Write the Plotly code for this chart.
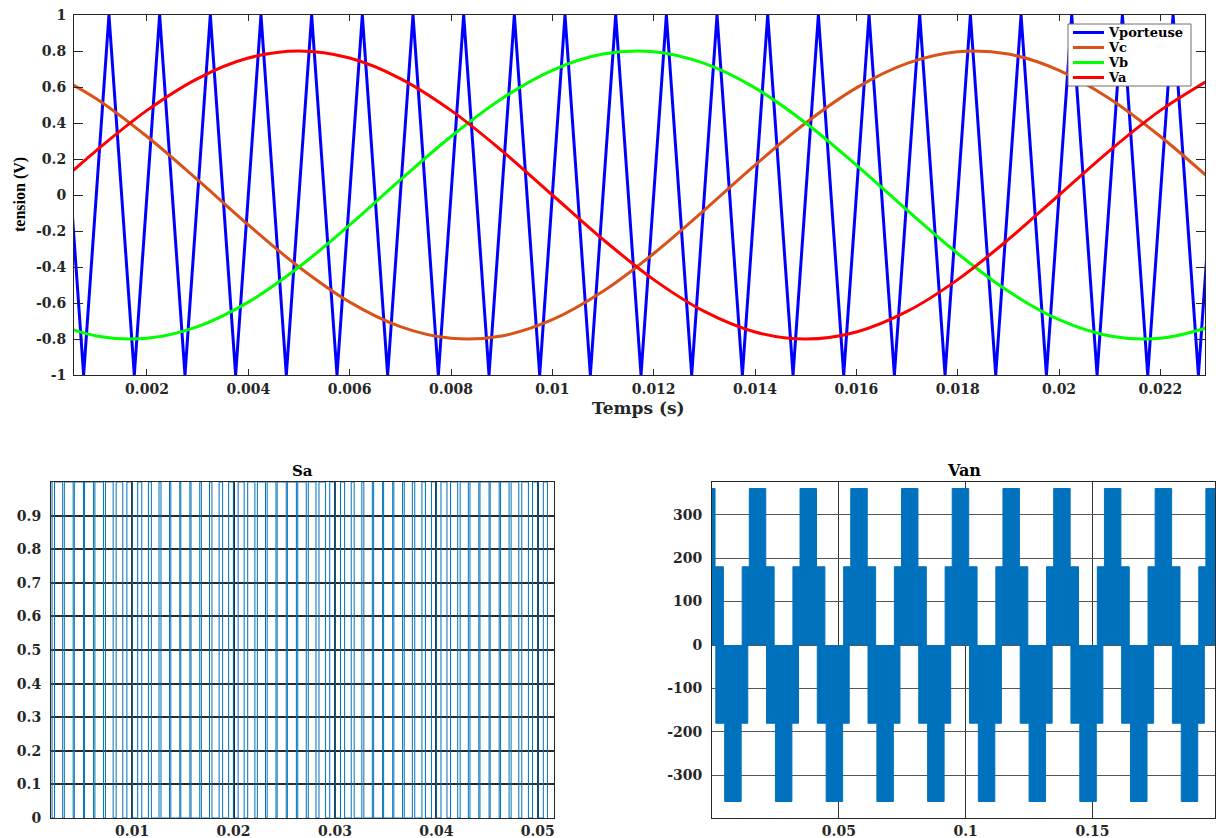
import plotly.graph_objects as go

# ---------------- Top panel data (Temps in s, tension in V) ----------------
carrier_t = [0.00025, 0.00075, 0.00125, 0.00175, 0.00225, 0.00275, 0.00325, 0.00375,
             0.00425, 0.00475, 0.00525, 0.00575, 0.00625, 0.00675, 0.00725, 0.00775,
             0.00825, 0.00875, 0.00925, 0.00975, 0.01025, 0.01075, 0.01125, 0.01175,
             0.01225, 0.01275, 0.01325, 0.01375, 0.01425, 0.01475, 0.01525, 0.01575,
             0.01625, 0.01675, 0.01725, 0.01775, 0.01825, 0.01875, 0.01925, 0.01975,
             0.02025, 0.02075, 0.02125, 0.02175, 0.02225, 0.02275, 0.02325]
carrier_v = [1, -1, 1, -1, 1, -1, 1, -1, 1, -1, 1, -1, 1, -1, 1, -1,
             1, -1, 1, -1, 1, -1, 1, -1, 1, -1, 1, -1, 1, -1, 1, -1,
             1, -1, 1, -1, 1, -1, 1, -1, 1, -1, 1, -1, 1, -1, 1]

sine_t = [0.000, 0.001, 0.002, 0.003, 0.004, 0.005, 0.006, 0.007, 0.008, 0.009, 0.010, 0.011,
          0.012, 0.013, 0.014, 0.015, 0.016, 0.017, 0.018, 0.019, 0.020, 0.021, 0.022, 0.023]
va = [0.0, 0.247, 0.470, 0.647, 0.761, 0.8, 0.761, 0.647, 0.470, 0.247, 0.0, -0.247,
      -0.470, -0.647, -0.761, -0.8, -0.761, -0.647, -0.470, -0.247, 0.0, 0.247, 0.470, 0.647]
vb = [-0.693, -0.783, -0.796, -0.731, -0.595, -0.4, -0.166, 0.084, 0.325, 0.535, 0.693, 0.783,
      0.796, 0.731, 0.595, 0.4, 0.166, -0.084, -0.325, -0.535, -0.693, -0.783, -0.796, -0.731]
vc = [0.693, 0.535, 0.325, 0.084, -0.166, -0.4, -0.595, -0.731, -0.796, -0.783, -0.693, -0.535,
      -0.325, -0.084, 0.166, 0.4, 0.595, 0.731, 0.796, 0.783, 0.693, 0.535, 0.325, 0.084]

series_names = ["Vporteuse", "Vc", "Vb", "Va"]
series_colors = ["#0000FF", "#D95319", "#00FF00", "#FF0000"]

top_xticks = [0.002, 0.004, 0.006, 0.008, 0.01, 0.012, 0.014, 0.016, 0.018, 0.02, 0.022]
top_xtext = ["0.002", "0.004", "0.006", "0.008", "0.01", "0.012", "0.014", "0.016", "0.018", "0.02", "0.022"]
top_yticks = [-1, -0.8, -0.6, -0.4, -0.2, 0, 0.2, 0.4, 0.6, 0.8, 1]
top_ytext = ["-1", "-0.8", "-0.6", "-0.4", "-0.2", "0", "0.2", "0.4", "0.6", "0.8", "1"]

# ---------------- Sa switching edges (ms) ----------------
sa_rise_ms = [1.396, 2.348, 3.315, 4.301, 5.306, 6.330, 7.370, 8.424, 9.484, 10.547,
              11.605, 12.652, 13.685, 14.699, 15.695, 16.671, 17.630, 18.577, 19.516, 20.453,
              21.396, 22.348, 23.315, 24.301, 25.306, 26.330, 27.370, 28.424, 29.484, 30.547,
              31.605, 32.652, 33.685, 34.699, 35.695, 36.671, 37.630, 38.577, 39.516, 40.453,
              41.396, 42.348, 43.315, 44.301, 45.306, 46.330, 47.370, 48.424, 49.484, 50.547]
sa_fall_ms = [2.105, 3.152, 4.185, 5.199, 6.195, 7.171, 8.130, 9.077, 10.016, 10.953,
              11.896, 12.848, 13.815, 14.801, 15.806, 16.830, 17.870, 18.924, 19.984, 21.047,
              22.105, 23.152, 24.185, 25.199, 26.195, 27.171, 28.130, 29.077, 30.016, 30.953,
              31.896, 32.848, 33.815, 34.801, 35.806, 36.830, 37.870, 38.924, 39.984, 41.047,
              42.105, 43.152, 44.185, 45.199, 46.195, 47.171, 48.130, 49.077, 50.016, 50.953]
sa_yticks = [0, 0.1, 0.2, 0.3, 0.4, 0.5, 0.6, 0.7, 0.8, 0.9]
sa_ytext = ["0", "0.1", "0.2", "0.3", "0.4", "0.5", "0.6", "0.7", "0.8", "0.9"]
sa_xticks = [0.01, 0.02, 0.03, 0.04, 0.05]
sa_xtext = ["0.01", "0.02", "0.03", "0.04", "0.05"]

# ---------------- Van bands (s) and levels (V) ----------------
van_level_lo = 180
van_level_hi = 360
pos_lo_start = [-0.0081, 0.0119, 0.0319, 0.0519, 0.0719, 0.0919, 0.1119, 0.1319, 0.1519, 0.1719, 0.1919]
pos_lo_end = [0.0045, 0.0245, 0.0445, 0.0645, 0.0845, 0.1045, 0.1245, 0.1445, 0.1645, 0.1845, 0.2045]
pos_hi_start = [-0.0053, 0.0147, 0.0347, 0.0547, 0.0747, 0.0947, 0.1147, 0.1347, 0.1547, 0.1747, 0.1947]
pos_hi_end = [0.0012, 0.0212, 0.0412, 0.0612, 0.0812, 0.1012, 0.1212, 0.1412, 0.1612, 0.1812, 0.2012]
neg_lo_start = [0.0015, 0.0215, 0.0415, 0.0615, 0.0815, 0.1015, 0.1215, 0.1415, 0.1615, 0.1815, 0.2015]
neg_lo_end = [0.0141, 0.0341, 0.0541, 0.0741, 0.0941, 0.1141, 0.1341, 0.1541, 0.1741, 0.1941, 0.2141]
neg_hi_start = [0.0050, 0.0250, 0.0450, 0.0650, 0.0850, 0.1050, 0.1250, 0.1450, 0.1650, 0.1850, 0.2050]
neg_hi_end = [0.0115, 0.0315, 0.0515, 0.0715, 0.0915, 0.1115, 0.1315, 0.1515, 0.1715, 0.1915, 0.2115]
van_yticks = [-300, -200, -100, 0, 100, 200, 300]
van_ytext = ["-300", "-200", "-100", "0", "100", "200", "300"]
van_xticks = [0.05, 0.1, 0.15]
van_xtext = ["0.05", "0.1", "0.15"]

# ---------------- build figure ----------------
W, H = 1216, 838
SERIF = "DejaVu Serif"
TXT = "#262626"

fig = go.Figure()

# top panel
fig.add_trace(go.Scatter(x=carrier_t, y=carrier_v, mode="lines", name=series_names[0],
                         line=dict(color=series_colors[0], width=3), xaxis="x", yaxis="y"))
for nm, col, vals in zip(series_names[1:], series_colors[1:], [vc, vb, va]):
    fig.add_trace(go.Scatter(x=sine_t, y=vals, mode="lines", name=nm, line_shape="spline",
                             line=dict(color=col, width=3), xaxis="x", yaxis="y"))

# Sa panel
sx, sy = [], []
for r, f in zip(sa_rise_ms, sa_fall_ms):
    sx += [r / 1000, r / 1000, f / 1000, f / 1000]
    sy += [0, 1, 1, 0]
fig.add_trace(go.Scatter(x=sx, y=sy, mode="lines", showlegend=False,
                         line=dict(color="#0072BD", width=1), xaxis="x2", yaxis="y2"))

# Van panel
vx, vy = [], []
for ls, hs, he, le in zip(pos_lo_start, pos_hi_start, pos_hi_end, pos_lo_end):
    vx += [ls, ls, hs, hs, he, he, le, le, None]
    vy += [0, van_level_lo, van_level_lo, van_level_hi, van_level_hi, van_level_lo, van_level_lo, 0, None]
for ls, hs, he, le in zip(neg_lo_start, neg_hi_start, neg_hi_end, neg_lo_end):
    vx += [ls, ls, hs, hs, he, he, le, le, None]
    vy += [0, -van_level_lo, -van_level_lo, -van_level_hi, -van_level_hi, -van_level_lo, -van_level_lo, 0, None]
fig.add_trace(go.Scatter(x=vx, y=vy, mode="lines", fill="toself", fillcolor="#0072BD",
                         showlegend=False, line=dict(color="#0072BD", width=1),
                         xaxis="x3", yaxis="y3"))


def px_x(p):
    return p / W


def px_y(p):
    return 1 - p / H


tick_font_top = dict(family=SERIF, size=14, color=TXT, weight="bold")
tick_font_bot = dict(family=SERIF, size=14, color=TXT, weight="bold")

# compact legend box (drawn in paper space)
shapes = [dict(type="rect", xref="paper", yref="paper",
               x0=px_x(1068), x1=px_x(1191), y0=px_y(86), y1=px_y(24),
               fillcolor="white", line=dict(color="#6e6e6e", width=1), layer="above")]
annotations = []
for i, (nm, col) in enumerate(zip(series_names, series_colors)):
    yc = px_y(32.5 + 15 * i)
    shapes.append(dict(type="line", xref="paper", yref="paper",
                       x0=px_x(1073), x1=px_x(1104), y0=yc, y1=yc,
                       line=dict(color=col, width=3), layer="above"))
    annotations.append(dict(text=nm, x=px_x(1106), y=yc, xref="paper", yref="paper",
                            showarrow=False, xanchor="left", yanchor="middle",
                            font=dict(family=SERIF, size=13, color="black", weight="bold")))

annotations += [
    dict(text="Temps (s)", x=px_x(639), y=px_y(408), xref="paper", yref="paper",
         showarrow=False, xanchor="center", yanchor="middle",
         font=dict(family=SERIF, size=17, color=TXT, weight="bold")),
    dict(text="tension (V)", x=px_x(20), y=px_y(195), xref="paper", yref="paper",
         showarrow=False, xanchor="center", yanchor="middle", textangle=-90,
         font=dict(family="Liberation Serif", size=16, color="black", weight="bold")),
    dict(text="Sa", x=px_x(302), y=px_y(471), xref="paper", yref="paper",
         showarrow=False, xanchor="center", yanchor="middle",
         font=dict(family=SERIF, size=15, color="black", weight="bold")),
    dict(text="Van", x=px_x(964), y=px_y(471), xref="paper", yref="paper",
         showarrow=False, xanchor="center", yanchor="middle",
         font=dict(family=SERIF, size=16, color="black", weight="bold")),
]

fig.update_layout(
    width=W, height=H,
    margin=dict(l=0, r=0, t=0, b=0, pad=0, autoexpand=False),
    paper_bgcolor="white", plot_bgcolor="white",
    showlegend=False,
    xaxis=dict(domain=[px_x(74), px_x(1205)], range=[0.00056, 0.02288], anchor="y",
               tickvals=top_xticks, ticktext=top_xtext, ticks="inside", ticklen=6,
               tickcolor=TXT, showline=True, linecolor=TXT, linewidth=1, mirror="ticks",
               showgrid=False, zeroline=False, tickfont=tick_font_top, ticklabelstandoff=1,
               automargin=False),
    yaxis=dict(domain=[px_y(375), px_y(15)], range=[-1, 1], anchor="x",
               tickvals=top_yticks, ticktext=top_ytext, ticks="inside", ticklen=9,
               tickcolor=TXT, showline=True, linecolor=TXT, linewidth=1, mirror="ticks",
               showgrid=False, zeroline=False, tickfont=tick_font_top, ticklabelstandoff=4,
               automargin=False),
    xaxis2=dict(domain=[px_x(51), px_x(554)], range=[0.002, 0.0516], anchor="y2",
                tickvals=sa_xticks, ticktext=sa_xtext, ticks="",
                showline=True, linecolor=TXT, linewidth=1, mirror=True,
                showgrid=True, gridcolor="#2a2a2a", gridwidth=1.5, zeroline=False,
                tickfont=tick_font_bot, ticklabelstandoff=0, automargin=False),
    yaxis2=dict(domain=[px_y(818), px_y(482)], range=[0, 1], anchor="x2",
                tickvals=sa_yticks, ticktext=sa_ytext, ticks="",
                showline=True, linecolor=TXT, linewidth=1, mirror=True,
                showgrid=True, gridcolor="#2a2a2a", gridwidth=1.5, zeroline=False,
                tickfont=tick_font_bot, ticklabelstandoff=6, automargin=False),
    xaxis3=dict(domain=[px_x(712), px_x(1215)], range=[0, 0.1983], anchor="y3",
                tickvals=van_xticks, ticktext=van_xtext, ticks="",
                showline=True, linecolor=TXT, linewidth=1, mirror=True,
                showgrid=True, gridcolor="#333333", gridwidth=1, zeroline=False,
                tickfont=tick_font_bot, ticklabelstandoff=0, automargin=False),
    yaxis3=dict(domain=[px_y(818), px_y(482)], range=[-398, 375], anchor="x3",
                tickvals=van_yticks, ticktext=van_ytext, ticks="",
                showline=True, linecolor=TXT, linewidth=1, mirror=True,
                showgrid=True, gridcolor="#555555", gridwidth=1, zeroline=False,
                tickfont=tick_font_bot, ticklabelstandoff=6, automargin=False),
    shapes=shapes,
    annotations=annotations,
)

fig.write_html("out.html")
